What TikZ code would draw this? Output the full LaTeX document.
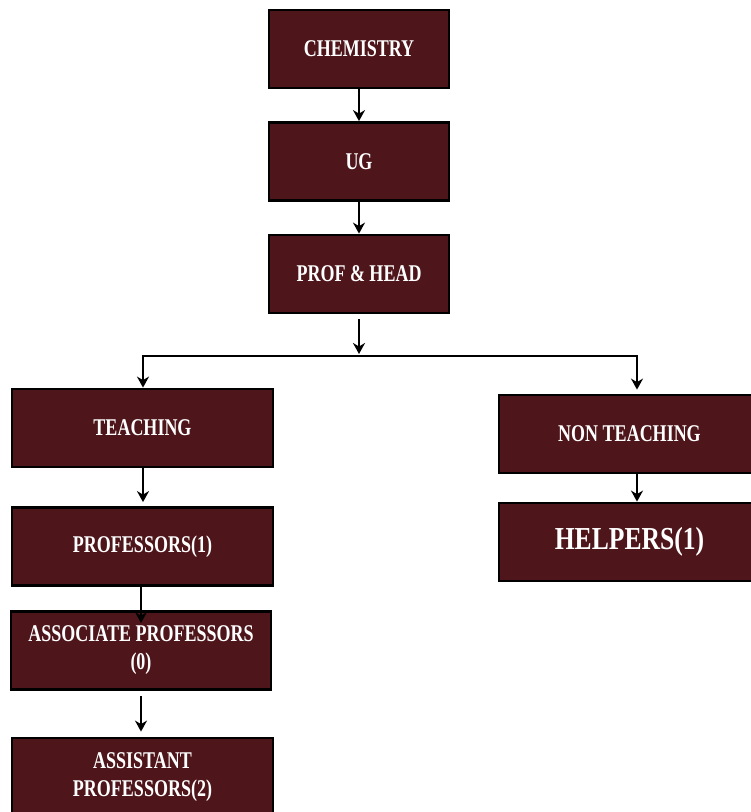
\documentclass[tikz,border=0pt]{standalone}
\usepackage{fontspec}
\newfontfamily\boxfont[FakeStretch=0.75]{Liberation Serif}
\newfontfamily\bigboxfont[FakeStretch=0.8]{Liberation Serif}
\usetikzlibrary{arrows.meta}
\definecolor{maroon}{RGB}{78,22,27}
\tikzset{
  box/.style={draw=black, line width=2.8pt, fill=maroon, text=white,
    minimum width=#1, minimum height=78pt, inner sep=2pt, align=center,
    font=\boxfont\bfseries\fontsize{24}{28}\selectfont},
  box/.default=180pt,
  arr/.style={line width=2.2pt, -{Stealth[length=11pt,width=12pt,inset=3.5pt]}},
  conn/.style={line width=2.2pt}
}
\begin{document}
\begin{tikzpicture}[x=1pt,y=-1pt]
\useasboundingbox (0,0) rectangle (751,812);
\begin{scope}
\clip (0,0) rectangle (751,812);
% top column
\node[box=180pt] (chem) at (359,49) {CHEMISTRY};
\node[box=180pt] (ug) at (359,161.5) {UG};
\node[box=180pt] (prof) at (359,274) {PROF \& HEAD};
% left column
\node[box=261pt] (teach) at (142.5,428) {TEACHING};
\node[box=261pt] (profs) at (142.5,546.5) {PROFESSORS(1)};
\node[box=260pt] (assoc) at (141,650.5) {ASSOCIATE PROFESSORS\\(0)};
\node[box=261pt] (assist) at (142.5,777) {ASSISTANT\\PROFESSORS(2)};
% right column
\node[box=261pt] (nonteach) at (629.5,434) {NON TEACHING};
\node[box=261pt, font=\bigboxfont\bfseries\fontsize{32}{36}\selectfont] (helpers) at (629.5,542) {HELPERS(1)};
% connectors
\draw[arr] (chem) -- (ug);
\draw[arr] (ug) -- (prof);
\coordinate (split) at (359,356);
\coordinate (bl) at (143,356);
\coordinate (br) at (637,356);
\draw[arr, shorten <=5pt, shorten >=2pt] (prof) -- (split);
\draw[conn] ([xshift=-1.1pt]bl) -- ([xshift=1.1pt]br);
\draw[arr] (bl) -- (bl |- teach.north);
\draw[arr, shorten >=4pt] (br) -- (br |- nonteach.north);
\draw[arr, shorten >=4pt] (teach.south -| bl) -- (bl |- profs.north);
\coordinate (pa) at (141,623);
\draw[arr] ([yshift=3pt]profs.south -| pa) -- (pa);
\draw[arr, shorten <=5pt, shorten >=5pt] (assoc.south -| pa) -- (pa |- assist.north);
\draw[arr] (nonteach.south -| br) -- (br |- helpers.north);
\end{scope}
\end{tikzpicture}
\end{document}
